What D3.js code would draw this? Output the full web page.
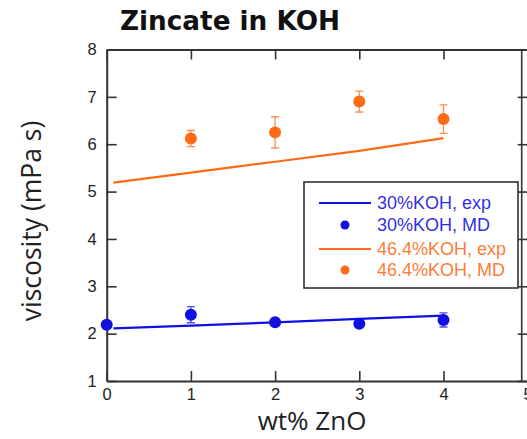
<!DOCTYPE html>
<html>
<head>
<meta charset="utf-8">
<script src="https://cdn.jsdelivr.net/npm/d3@7"></script>
<style>
  body { margin: 0; background: #fff; }
  svg { display: block; }
</style>
</head>
<body>
<div id="container"></div>
<script>
/* CONSTANTS AND GLOBALS */
const width = 527,
  height = 439,
  margin = { top: 49.5, bottom: 58, left: 106.7, right: -0.7 };

const blue = "#1010e0",
  orange = "#ff6a14",
  ink = "#333";

/* DATA */
const xTicks = [0, 1, 2, 3, 4, 5];
const yTicks = [1, 2, 3, 4, 5, 6, 7, 8];

// experimental fits (lines)
const expZnO = [0.08, 1, 2, 3, 4];
const koh30Exp = [2.11, 2.17, 2.24, 2.31, 2.38];
const koh464Exp = [5.19, 5.40, 5.63, 5.86, 6.13];

// MD points with error bars
const koh30ZnO = [0, 1, 2, 3, 4];
const koh30MD = [2.19, 2.40, 2.24, 2.21, 2.29];
const koh30Err = [0, 0.17, 0.03, 0.03, 0.15];

const koh464ZnO = [1, 2, 3, 4];
const koh464MD = [6.12, 6.25, 6.90, 6.53];
const koh464Err = [0.17, 0.33, 0.22, 0.30];

const legendLabels = ["30%KOH, exp", "30%KOH, MD", "46.4%KOH, exp", "46.4%KOH, MD"];

const zip = (xs, ys, es) => xs.map((x, i) => ({ x, y: ys[i], e: es ? es[i] : 0 }));

// SCALES
const xScale = d3.scaleLinear()
  .domain([0, 5])
  .range([margin.left, width - margin.right]);

const yScale = d3.scaleLinear()
  .domain([1, 8])
  .range([height - margin.bottom, margin.top]);

// CREATE SVG ELEMENT
const svg = d3.select("#container")
  .append("svg")
  .attr("width", width)
  .attr("height", height)
  .style("font-family", "'Liberation Sans', Arial, sans-serif");

// TITLE
svg.append("text")
  .attr("x", 120)
  .attr("y", 30)
  .attr("textLength", 220)
  .attr("lengthAdjust", "spacingAndGlyphs")
  .style("font-family", "'DejaVu Sans', sans-serif")
  .style("font-weight", "bold")
  .style("font-size", "27px")
  .attr("fill", "#111")
  .text("Zincate in KOH");

// AXES
const styleAxis = g => {
  g.selectAll(".domain").attr("stroke", ink).attr("stroke-width", 2);
  g.selectAll(".tick line").attr("stroke", ink).attr("stroke-width", 1.6);
  g.selectAll(".tick text").attr("fill", "#222").style("font-size", "16.5px");
};

svg.append("g")
  .attr("transform", `translate(0, ${yScale(1)})`)
  .call(d3.axisBottom(xScale).tickValues(xTicks).tickFormat(d3.format("d"))
    .tickSize(-10).tickSizeOuter(0).tickPadding(7))
  .call(styleAxis);

svg.append("g")
  .attr("transform", `translate(${xScale(0)}, 0)`)
  .call(d3.axisLeft(yScale).tickValues(yTicks).tickFormat(d3.format("d"))
    .tickSize(-10).tickSizeOuter(0).tickPadding(10))
  .call(styleAxis);

svg.append("g")
  .attr("transform", `translate(0, ${yScale(8)})`)
  .call(d3.axisTop(xScale).tickValues(xTicks).tickSize(-10).tickSizeOuter(0).tickFormat(""))
  .call(styleAxis);

svg.append("g")
  .attr("transform", `translate(${xScale(5)}, 0)`)
  .call(d3.axisRight(yScale).tickValues(yTicks).tickSize(-10).tickSizeOuter(0).tickFormat(""))
  .call(styleAxis);

// inner right frame line seen in the picture
svg.append("line")
  .attr("x1", 521.7).attr("x2", 521.7)
  .attr("y1", yScale(8)).attr("y2", yScale(1))
  .attr("stroke", ink)
  .attr("stroke-width", 1.6);

// AXIS TITLES
svg.append("text")
  .attr("transform", "translate(41, 221) rotate(-90)")
  .attr("text-anchor", "middle")
  .style("font-family", "'Open Sans', sans-serif")
  .style("font-size", "26.5px")
  .attr("fill", "#222")
  .text("viscosity (mPa s)");

svg.append("text")
  .attr("x", 312)
  .attr("y", 430)
  .attr("text-anchor", "middle")
  .style("font-family", "'Open Sans', sans-serif")
  .style("font-size", "26px")
  .attr("fill", "#222")
  .text("wt% ZnO");

// DRAW LINE FUNCTION
const drawLine = d3.line()
  .x(d => xScale(d.x))
  .y(d => yScale(d.y));

svg.selectAll(".exp-line")
  .data([
    { pts: zip(expZnO, koh30Exp), color: blue },
    { pts: zip(expZnO, koh464Exp), color: orange }
  ])
  .join("path")
  .attr("class", "exp-line")
  .attr("fill", "none")
  .attr("stroke", d => d.color)
  .attr("stroke-width", 2.2)
  .attr("d", d => drawLine(d.pts));

// MD POINTS WITH ERROR BARS
const drawPoints = (pts, color, cls) => {
  const g = svg.append("g").attr("class", cls);
  const bars = pts.filter(d => d.e > 0);
  g.selectAll(".err")
    .data(bars)
    .join("path")
    .attr("class", "err")
    .attr("fill", "none")
    .attr("stroke", color)
    .attr("stroke-opacity", 0.75)
    .attr("stroke-width", 1.3)
    .attr("d", d => {
      const x = xScale(d.x), y0 = yScale(d.y - d.e), y1 = yScale(d.y + d.e);
      return `M${x},${y0}V${y1}M${x - 4},${y0}H${x + 4}M${x - 4},${y1}H${x + 4}`;
    });
  g.selectAll("circle")
    .data(pts)
    .join("circle")
    .attr("cx", d => xScale(d.x))
    .attr("cy", d => yScale(d.y))
    .attr("r", 6)
    .attr("fill", color);
};

drawPoints(zip(koh30ZnO, koh30MD, koh30Err), blue, "koh30");
drawPoints(zip(koh464ZnO, koh464MD, koh464Err), orange, "koh464");

// LEGEND
const legend = svg.append("g").attr("class", "legend");
legend.append("rect")
  .attr("x", 304).attr("y", 182)
  .attr("width", 214).attr("height", 106)
  .attr("fill", "#fff")
  .attr("stroke", ink)
  .attr("stroke-width", 1.6);

const legendItems = [
  { label: legendLabels[0], color: blue, type: "line" },
  { label: legendLabels[1], color: blue, type: "dot" },
  { label: legendLabels[2], color: orange, type: "line" },
  { label: legendLabels[3], color: orange, type: "dot" }
];
const rowY = [203, 225, 249, 270];

const rows = legend.selectAll(".row")
  .data(legendItems)
  .join("g")
  .attr("class", "row")
  .attr("transform", (d, i) => `translate(0, ${rowY[i]})`);

rows.filter(d => d.type === "line")
  .append("line")
  .attr("x1", 319).attr("x2", 371)
  .attr("stroke", d => d.color)
  .attr("stroke-width", 2);

rows.filter(d => d.type === "dot")
  .append("circle")
  .attr("cx", 345).attr("r", 4.5)
  .attr("fill", d => d.color);

rows.append("text")
  .attr("x", 377)
  .attr("dy", "0.36em")
  .style("font-size", "18px")
  .attr("fill", d => d.color)
  .attr("fill-opacity", 0.9)
  .text(d => d.label);
</script>
</body>
</html>
